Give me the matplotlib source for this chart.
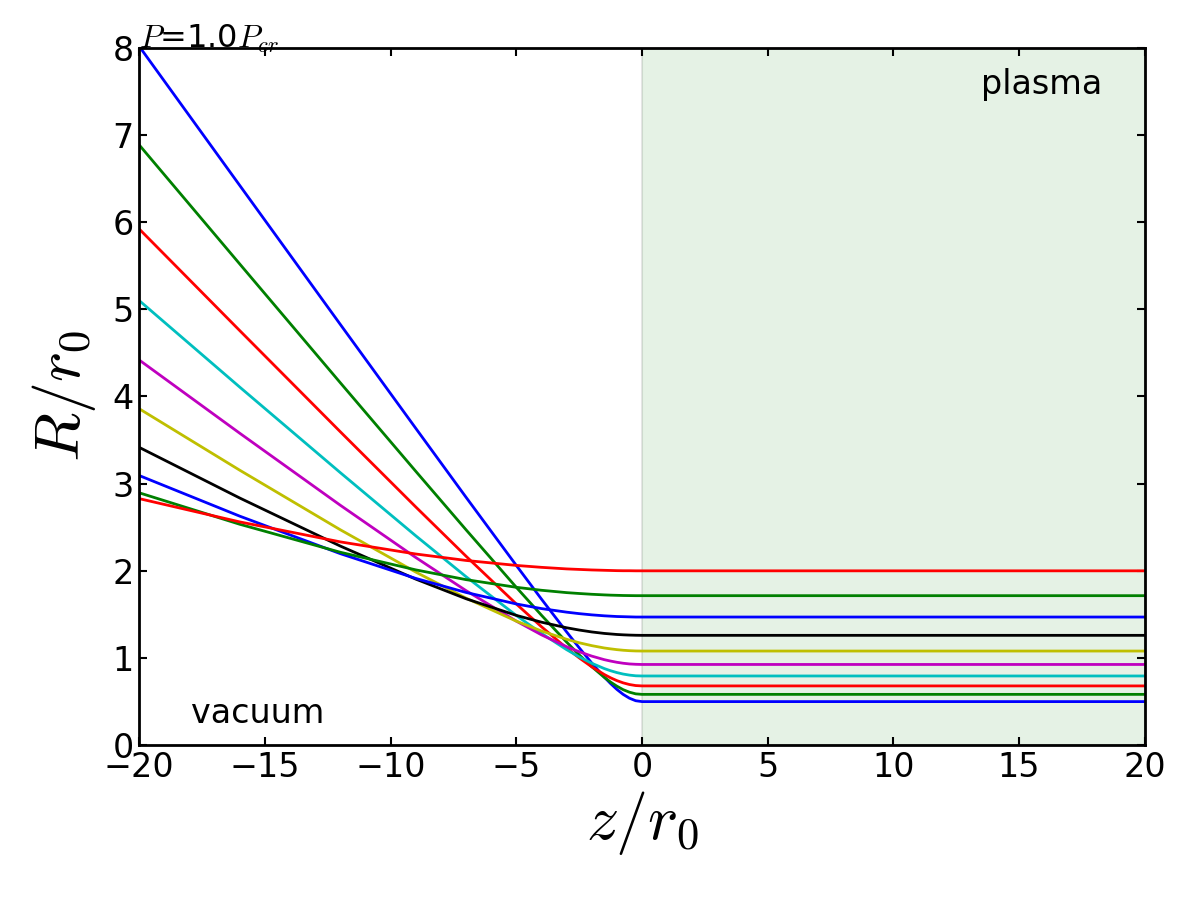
import matplotlib
matplotlib.use('Agg')
import matplotlib.pyplot as plt

# beam radius R/r0 at these z/r0 positions
z_pos = [-20, -16, -12, -9, -7, -5, -4, -3, -2.5, -2, -1.5, -1.25, -1, -0.75, -0.5, -0.25, 0, 20]

radius_series = [
    [8.016, 6.420, 4.826, 3.635, 2.844, 2.062, 1.676, 1.300, 1.118, 0.943, 0.781, 0.707, 0.640, 0.583, 0.539, 0.510, 0.500, 0.500],
    [6.885, 5.519, 4.157, 3.142, 2.471, 1.811, 1.491, 1.183, 1.037, 0.901, 0.778, 0.724, 0.677, 0.637, 0.608, 0.589, 0.583, 0.583],
    [5.921, 4.755, 3.595, 2.733, 2.168, 1.620, 1.359, 1.114, 1.002, 0.899, 0.811, 0.773, 0.741, 0.715, 0.696, 0.684, 0.680, 0.680],
    [5.100, 4.107, 3.126, 2.402, 1.933, 1.488, 1.283, 1.096, 1.013, 0.940, 0.879, 0.854, 0.833, 0.816, 0.804, 0.796, 0.794, 0.794],
    [4.418, 3.578, 2.752, 2.153, 1.773, 1.423, 1.266, 1.130, 1.072, 1.022, 0.981, 0.965, 0.951, 0.940, 0.932, 0.928, 0.926, 0.926],
    [3.859, 3.154, 2.471, 1.986, 1.687, 1.423, 1.310, 1.215, 1.175, 1.142, 1.115, 1.105, 1.096, 1.089, 1.084, 1.081, 1.080, 1.080],
    [3.416, 2.835, 2.284, 1.905, 1.680, 1.489, 1.411, 1.347, 1.321, 1.299, 1.282, 1.276, 1.270, 1.266, 1.263, 1.261, 1.260, 1.260],
    [3.093, 2.627, 2.197, 1.913, 1.752, 1.620, 1.567, 1.526, 1.509, 1.495, 1.484, 1.480, 1.476, 1.474, 1.472, 1.470, 1.470, 1.470],
    [2.895, 2.534, 2.213, 2.011, 1.899, 1.811, 1.777, 1.750, 1.740, 1.731, 1.724, 1.721, 1.719, 1.717, 1.716, 1.715, 1.715, 1.715],
    [2.828, 2.561, 2.332, 2.193, 2.119, 2.062, 2.040, 2.022, 2.016, 2.010, 2.006, 2.004, 2.002, 2.001, 2.001, 2.000, 2.000, 2.000],
]

line_colors = ['b', 'g', 'r', 'c', 'm', 'y', 'k', 'b', 'g', 'r']
x_ticks = [-20, -15, -10, -5, 0, 5, 10, 15, 20]
y_ticks = [0, 1, 2, 3, 4, 5, 6, 7, 8]

plt.rcParams['mathtext.fontset'] = 'cm'
plt.rcParams['font.family'] = 'DejaVu Sans'

fig = plt.figure(figsize=(12, 9), dpi=100)
ax = fig.add_axes([0.116, 0.172, 0.838, 0.775])

# plasma region
ax.axvspan(0, 20, facecolor='g', edgecolor='k', alpha=0.1, linewidth=1.5)

for vals, c in zip(radius_series, line_colors):
    ax.plot(z_pos, vals, color=c, linewidth=2)

ax.set_xlim(-20, 20)
ax.set_ylim(0, 8)
ax.set_xticks(x_ticks)
ax.set_yticks(y_ticks)
ax.tick_params(direction='in', top=True, right=True, length=6, width=1.5,
               labelsize=24, pad=4)
for sp in ax.spines.values():
    sp.set_linewidth(2)

ax.set_xlabel(r'$z/r_0$', fontsize=46, labelpad=4)
ax.set_ylabel(r'$R/r_0$', fontsize=46, labelpad=10)

ax.text(0.0, 1.0, r'$P$=1.0$P_{cr}$', transform=ax.transAxes,
        fontsize=23, ha='left', va='baseline')
ax.text(15.9, 7.58, 'plasma', fontsize=24, ha='center', va='center')
ax.text(-15.3, 0.36, 'vacuum', fontsize=24, ha='center', va='center')

plt.savefig('out.png', dpi=100)
plt.close()
